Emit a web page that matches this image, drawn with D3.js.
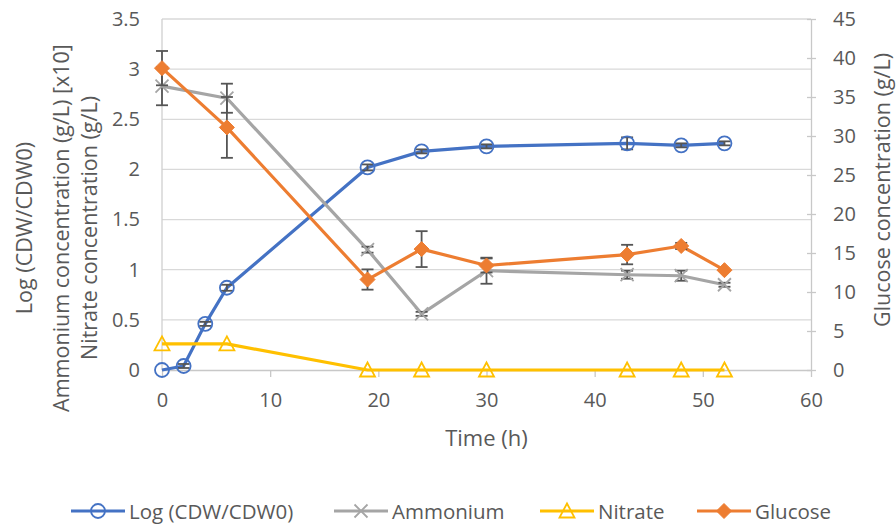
<!DOCTYPE html>
<html>
<head>
<meta charset="utf-8">
<script src="https://cdn.jsdelivr.net/npm/d3@7"></script>
<style>
  body { margin: 0; background: #fff; }
  svg text { font-family: "Open Sans", "Noto Sans", sans-serif; fill: #595959; }
</style>
</head>
<body>
<div id="chart"></div>
<script>
// sampling times (h)
var time = [0, 2, 4, 6, 19, 24, 30, 43, 48, 52];
var logCdw = [0, 0.04, 0.46, 0.82, 2.02, 2.18, 2.23, 2.26, 2.24, 2.26];
var logErr = [0, 0.02, 0.02, 0.03, 0.03, 0.02, 0.02, 0.06, 0.02, 0.02];

var sampleTime = [0, 6, 19, 24, 30, 43, 48, 52];
var ammonium = [2.83, 2.71, 1.20, 0.56, 0.99, 0.95, 0.94, 0.85];
var ammErr = [0.19, 0.145, 0.03, 0.02, 0.13, 0.04, 0.05, 0.02];
var nitrate = [0.26, 0.26, 0, 0, 0, 0, 0, 0];
var glucose = [38.7, 31.1, 11.6, 15.5, 13.4, 14.8, 15.9, 12.8];
var gluErr = [2.2, 3.9, 1.3, 2.3, 0.9, 1.25, 0.4, 0];

var xTicks = [0, 10, 20, 30, 40, 50, 60];
var leftTicks = [0, 0.5, 1, 1.5, 2, 2.5, 3, 3.5];
var rightTicks = [0, 5, 10, 15, 20, 25, 30, 35, 40, 45];

var W = 896, H = 527;
var margin = { top: 19, right: 85, bottom: 157, left: 162 };

var svg = d3.select("#chart").append("svg")
  .attr("width", W).attr("height", H);

var x = d3.scaleLinear().domain([0, 60]).range([margin.left, W - margin.right]);
var yL = d3.scaleLinear().domain([0, 3.5]).range([H - margin.bottom, margin.top]);
var yR = d3.scaleLinear().domain([0, 45]).range([H - margin.bottom, margin.top]);

var x0 = x(0), x1 = x(60), yb = yL(0);

// gridlines
svg.append("g").selectAll("line").data(leftTicks.slice(1)).enter().append("line")
  .attr("x1", x0).attr("x2", x1)
  .attr("y1", d => yL(d)).attr("y2", d => yL(d))
  .attr("stroke", "#d9d9d9").attr("stroke-width", 1.3);

// left axis line
svg.append("line").attr("x1", x0).attr("x2", x0).attr("y1", yL(3.5)).attr("y2", yb)
  .attr("stroke", "#d0d0d0").attr("stroke-width", 1.3);

// x axis
var xAxis = d3.axisBottom(x).tickValues(xTicks).tickSizeInner(7).tickSizeOuter(0).tickPadding(16);
var gx = svg.append("g").attr("transform", "translate(0," + yb + ")").call(xAxis);
gx.select(".domain").attr("stroke", "#c8c8c8").attr("stroke-width", 1.3);
gx.selectAll(".tick line").attr("stroke", "#c8c8c8").attr("stroke-width", 1.3);
gx.selectAll(".tick text").style("font-size", "20px").attr("fill", "#595959");

// left axis labels
var yAxisL = d3.axisLeft(yL).tickValues(leftTicks).tickFormat(d => String(d)).tickSize(0).tickPadding(22);
var gl = svg.append("g").attr("transform", "translate(" + x0 + ",0)").call(yAxisL);
gl.select(".domain").remove();
gl.selectAll(".tick text").style("font-size", "20px").attr("fill", "#595959");

// right axis
var yAxisR = d3.axisRight(yR).tickValues(rightTicks).tickSize(0).tickPadding(22);
var gr = svg.append("g").attr("transform", "translate(" + x1 + ",0)").call(yAxisR);
gr.select(".domain").attr("stroke", "#c8c8c8").attr("stroke-width", 1.3);
gr.selectAll(".tick text").style("font-size", "20px").attr("fill", "#595959");
gr.selectAll(".tick").append("line").attr("x1", -4).attr("x2", 5)
  .attr("stroke", "#c8c8c8").attr("stroke-width", 1.3);

// axis titles
svg.append("text").attr("x", x(30)).attr("y", 446).attr("text-anchor", "middle")
  .style("font-size", "22px").text("Time (h)");

var leftTitles = [
  { t: "Log (CDW/CDW0)", cx: 23 },
  { t: "Ammonium concentration (g/L) [x10]", cx: 60 },
  { t: "Nitrate concentration (g/L)", cx: 88 }
];
svg.selectAll("text.ltitle").data(leftTitles).enter().append("text")
  .attr("class", "ltitle")
  .attr("transform", d => "translate(" + d.cx + ",228) rotate(-90)")
  .attr("text-anchor", "middle").attr("dominant-baseline", "central")
  .style("font-size", "21.5px").text(d => d.t);

svg.append("text")
  .attr("transform", "translate(881,190) rotate(-90)")
  .attr("text-anchor", "middle").attr("dominant-baseline", "central")
  .style("font-size", "21.5px").text("Glucose concentration (g/L)");

// series
var errColor = "#555555";
var series = [
  { name: "Log (CDW/CDW0)", color: "#4472c4", t: time, v: logCdw, e: logErr, y: yL, marker: "circle" },
  { name: "Ammonium", color: "#a5a5a5", t: sampleTime, v: ammonium, e: ammErr, y: yL, marker: "x" },
  { name: "Nitrate", color: "#ffc000", t: sampleTime, v: nitrate, e: null, y: yL, marker: "triangle" },
  { name: "Glucose", color: "#ed7d31", t: sampleTime, v: glucose, e: gluErr, y: yR, marker: "diamond" }
];

function drawMarker(g, type, color) {
  if (type === "circle") {
    g.append("circle").attr("r", 7).attr("fill", "none")
      .attr("stroke", color).attr("stroke-width", 1.8);
  } else if (type === "x") {
    g.append("path").attr("d", "M-6.5,-6.5L6.5,6.5M-6.5,6.5L6.5,-6.5")
      .attr("stroke", color).attr("stroke-width", 1.8);
  } else if (type === "triangle") {
    g.append("path").attr("d", "M0,-7.5L7.5,6.5L-7.5,6.5Z").attr("fill", "none")
      .attr("stroke", color).attr("stroke-width", 1.8);
  } else if (type === "diamond") {
    g.append("path").attr("d", "M0,-7.5L7.5,0L0,7.5L-7.5,0Z")
      .attr("fill", color).attr("stroke", color).attr("stroke-width", 1);
  }
}

series.forEach(function(s) {
  var pts = s.t.map((t, i) => ({ t: t, v: s.v[i], e: s.e ? s.e[i] : 0 }));
  var g = svg.append("g");
  var line = d3.line().x(d => x(d.t)).y(d => s.y(d.v));
  g.append("path").datum(pts).attr("d", line)
    .attr("fill", "none").attr("stroke", s.color).attr("stroke-width", 3.2)
    .attr("stroke-linejoin", "round");

  // error bars
  var eb = g.selectAll("g.err").data(pts.filter(d => d.e > 0)).enter().append("g");
  eb.append("line")
    .attr("x1", d => x(d.t)).attr("x2", d => x(d.t))
    .attr("y1", d => s.y(d.v - d.e)).attr("y2", d => s.y(d.v + d.e))
    .attr("stroke", errColor).attr("stroke-width", 1.8);
  [-1, 1].forEach(function(sign) {
    eb.append("line")
      .attr("x1", d => x(d.t) - 6).attr("x2", d => x(d.t) + 6)
      .attr("y1", d => s.y(d.v + sign * d.e)).attr("y2", d => s.y(d.v + sign * d.e))
      .attr("stroke", errColor).attr("stroke-width", 1.8);
  });

  pts.forEach(function(d) {
    var m = g.append("g").attr("transform", "translate(" + x(d.t) + "," + s.y(d.v) + ")");
    drawMarker(m, s.marker, s.color);
  });
});

// legend
var legendX = [71, 334, 540, 697];
var legend = svg.append("g").attr("transform", "translate(0,511)");
series.forEach(function(s, i) {
  var lg = legend.append("g").attr("transform", "translate(" + legendX[i] + ",0)");
  lg.append("line").attr("x1", 0).attr("x2", 54).attr("y1", 0).attr("y2", 0)
    .attr("stroke", s.color).attr("stroke-width", 3.2);
  drawMarker(lg.append("g").attr("transform", "translate(27,0)"), s.marker, s.color);
  lg.append("text").attr("x", 58).attr("y", 0).attr("dominant-baseline", "central")
    .style("font-size", "20.5px").text(s.name);
});
</script>
</body>
</html>
